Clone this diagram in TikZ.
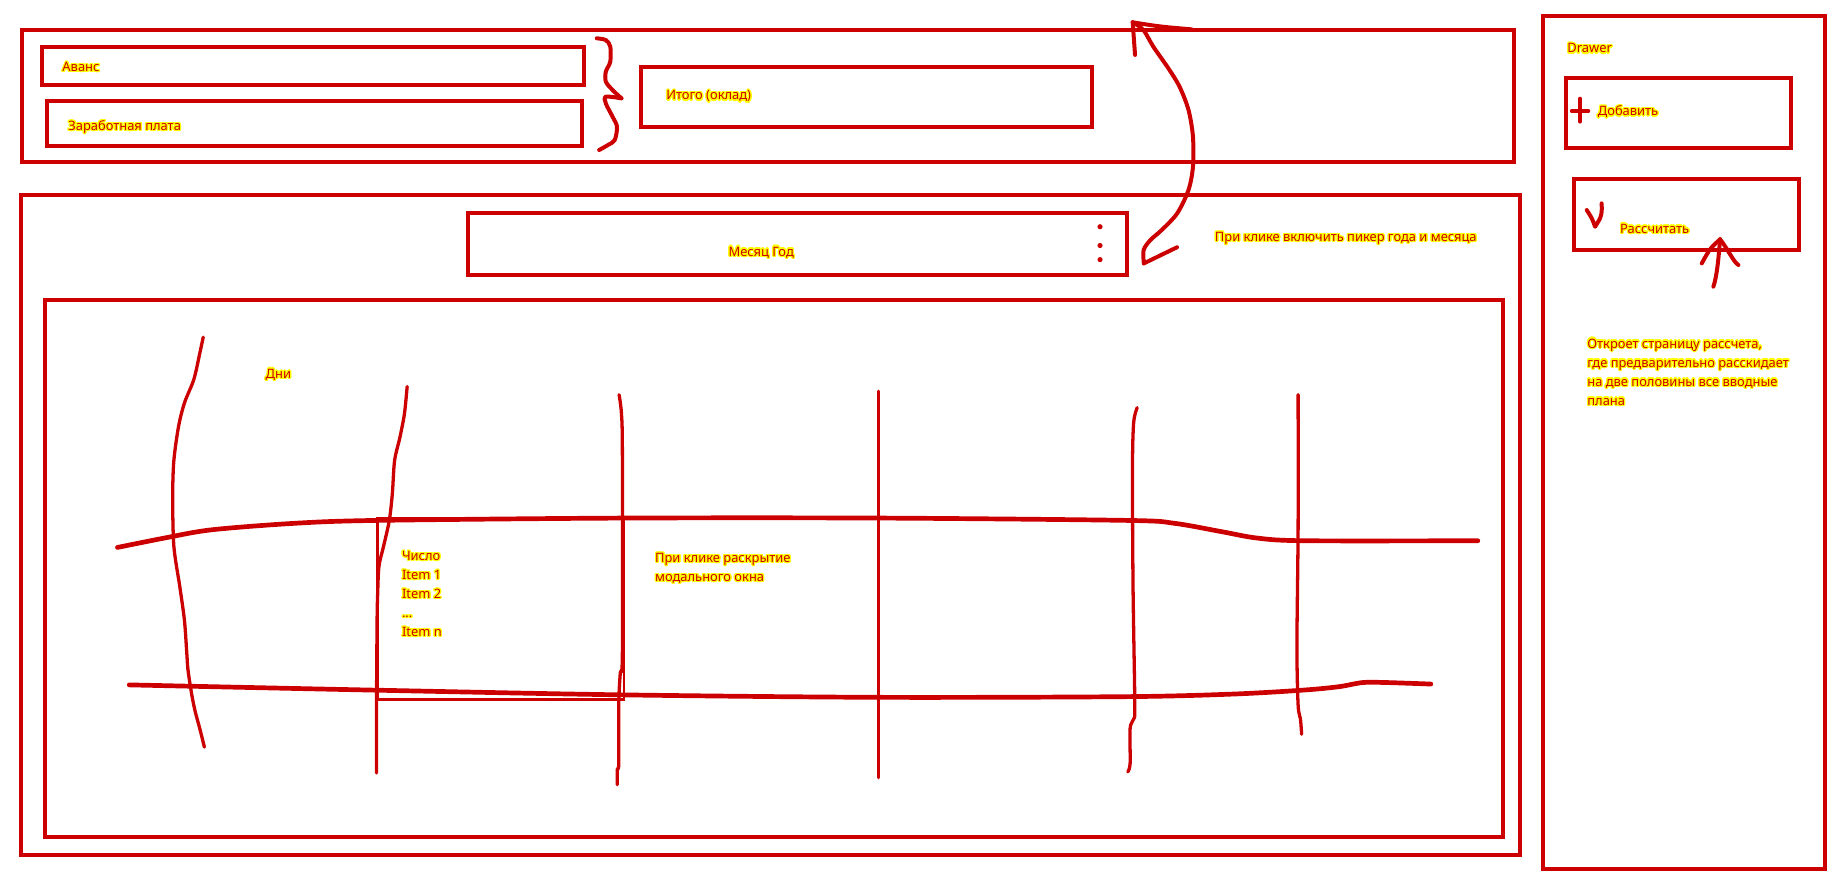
\documentclass[tikz,border=0pt]{standalone}
\usepackage{fontspec}
\setmainfont{Noto Sans}
\usepackage[copies]{contour}
\usepackage{tikz}
\usetikzlibrary{positioning}
\definecolor{sketchred}{HTML}{CC0000}
\definecolor{glowyellow}{HTML}{FFFF00}
\contourlength{1.1pt}
\newcommand{\hl}[1]{\contour{glowyellow}{#1}}

\tikzset{
  frame/.style={draw=sketchred, line width=3.4pt, inner sep=0pt, anchor=north west},
  pen/.style={draw=sketchred, line width=3pt, line cap=round, line join=round},
  lbl/.style={text=sketchred, inner sep=0pt, anchor=base west, align=left,
              font=\fontsize{11}{16.2}\selectfont}
}

\begin{document}
\begin{tikzpicture}[x=1pt, y=-1pt]
  \useasboundingbox (0,0) rectangle (1568,753);

  % top bar
  \node[frame, minimum width=1270pt, minimum height=112pt] (topbar) at (17,24) {};
  \node[frame, minimum width=461pt, minimum height=32.5pt] (avans) at (34,38) {};
  \node[frame, minimum width=456pt, minimum height=38pt] (salary) at (38,84.5) {};
  \node[frame, minimum width=384pt, minimum height=50.5pt] (total) at (544,55.5) {};
  \node[lbl] (avanslbl) at (53,61) {\hl{Аванс}};
  \node[lbl] (salarylbl) at (58,111) {\hl{Заработная плата}};
  \node[lbl] (totallbl) at (567,85) {\hl{Итого (оклад)}};
  \draw[pen, line width=3.4pt] plot[smooth, tension=0.5] coordinates {(508,32.6) (515.7,34.1) (519.5,39.7) (519.5,52.5) (515.7,61) (515.7,69.5) (521.4,76.6) (529,83.7)};
  \draw[pen, line width=3.4pt] plot[smooth, tension=0.5] coordinates {(529,83.7) (515.7,82.3) (515.7,88) (521.4,99.3) (525.2,107.8) (523.3,119.2) (517.6,123.4) (510,127.7)};

  % main area
  \node[frame, minimum width=1276pt, minimum height=562pt] (mainarea) at (16,164.5) {};
  \node[frame, minimum width=561pt, minimum height=53pt] (period) at (397,179.5) {};
  \node[lbl] (periodlbl) at (620,218) {\hl{Месяц Год}};
  \foreach \dy in {193,209,221}
    \fill[sketchred] (936.4,\dy) circle (2.2pt);
  \node[lbl] (pickerlbl) at (1034,205.5) {\hl{При клике включить пикер года и месяца}};

  % picker arrow
  \coordinate (uptip) at (964.2,19);
  \coordinate (downtip) at (973.7,224.2);
  \draw[pen, line width=3.4pt] plot[smooth, tension=0.5] coordinates {(uptip) (973.3,25.5) (981.8,39.8) (994.6,58.2) (1004.1,73.8) (1011.7,93.6) (1015.5,116.3) (1015.5,141.9) (1011.7,161.7) (1002.1,181.6) (988.9,195.8) (979.3,204.3) (973.5,212.8) (downtip)};
  \draw[pen, line width=3.4pt] (uptip) .. controls (987.5,22.7) .. (1014.5,25);
  \draw[pen, line width=3.4pt] (uptip) -- (966.2,46.8);
  \draw[pen, line width=3.4pt] (downtip) .. controls (987.6,217.1) .. (1001.9,210.5);

  % calendar
  \node[frame, minimum width=1241pt, minimum height=457pt] (calendar) at (37,254) {};
  \node[frame, line width=2.4pt, minimum width=210pt, minimum height=154pt] (modal) at (320,440) {};
  \node[lbl] (dayslbl) at (226,322) {\hl{Дни}};
  \node[lbl] (itemslbl) at (342,541.8) {\hl{Число}\\\hl{Item 1}\\\hl{Item 2}\\\hl{...}\\\hl{Item n}};
  \node[lbl] (modallbl) at (557.5,494.9) {\hl{При клике раскрытие}\\\hl{модального окна}};

  \draw[pen, line width=2.8pt] plot[smooth, tension=0.5] coordinates {(173,287) (170,301) (165,323) (157,343) (152,363) (148,392) (147,423) (148,465) (153,499) (157,528) (159,556) (160,570) (163,590) (166,605) (170,620) (174,636)};
  \draw[pen, line width=2.8pt] plot[smooth, tension=0.5] coordinates {(346.6,329) (344.3,352) (340.5,372) (335.9,392) (334,420) (331.4,443) (326.5,465) (322.6,482) (321.5,505) (321,528) (320.5,600) (320.5,658)};
  \draw[pen, line width=2.8pt] plot[smooth, tension=0.5] coordinates {(527,336) (529,352) (529.8,386) (529.8,556) (528,573) (526.7,599) (526.7,650) (525.5,655) (525.5,668)};
  \draw[pen, line width=2.8pt] (748,333) -- (748,662);
  \draw[pen, line width=2.8pt] plot[smooth, tension=0.5] coordinates {(968,347) (965,360) (964,400) (964.5,500) (966,600) (965,612) (962,620) (962,650) (960,657)};
  \draw[pen, line width=2.8pt] plot[smooth, tension=0.5] coordinates {(1105,336) (1105,450) (1104,550) (1105,600) (1107,612) (1108,625)};

  \draw[pen, line width=4pt] plot[smooth, tension=0.5] coordinates {(100,466) (140,458) (180,451) (250,445.5) (320,443) (530,441) (750,441) (960,443) (1000,445.5) (1040,452.6) (1070,458) (1110,460.3) (1258,460.3)};
  \draw[pen, line width=4pt] plot[smooth, tension=0.5] coordinates {(110,583) (320,587.5) (530,591.5) (750,593.6) (960,593) (1050,590.8) (1110,587.4) (1140,584.5) (1160,581) (1180,581) (1218,582.3)};

  % drawer
  \node[frame, minimum width=240pt, minimum height=726pt] (drawer) at (1312,12) {};
  \node[lbl] (drawerlbl) at (1334,45) {\hl{Drawer}};
  \node[frame, minimum width=192pt, minimum height=59pt] (addbtn) at (1331,65) {};
  \draw[pen, line width=3.4pt] (1345,84) -- (1345,103.5) (1338,94.5) -- (1352,94.5);
  \node[lbl] (addlbl) at (1360,98.5) {\hl{Добавить}};
  \node[frame, minimum width=192pt, minimum height=60pt] (calcbtn) at (1338,151) {};
  \draw[pen, line width=3.4pt] plot[smooth, tension=0.5] coordinates {(1350.7,178.8) (1355,185.9) (1357.8,193)} -- plot[smooth, tension=0.5] coordinates {(1357.8,193) (1362,185.9) (1363.4,180.2) (1363.4,173.1)};
  \node[lbl] (calclbl) at (1379,198.5) {\hl{Рассчитать}};

  \coordinate (calctip) at (1464.2,203.7);
  \draw[pen, line width=3.4pt] (calctip) .. controls (1462.8,221.3) and (1461.4,235.5) .. (1458.5,244);
  \draw[pen, line width=3.4pt] (calctip) .. controls (1455.7,211.4) .. (1448.6,224.2);
  \draw[pen, line width=3.4pt] (calctip) .. controls (1471.3,212.8) and (1475.5,222.8) .. (1479.8,225.6);
  \node[lbl] (calcnote) at (1351,344.9) {\hl{Откроет страницу рассчета,}\\\hl{где предварительно расскидает}\\\hl{на две половины все вводные}\\\hl{плана}};
\end{tikzpicture}
\end{document}
